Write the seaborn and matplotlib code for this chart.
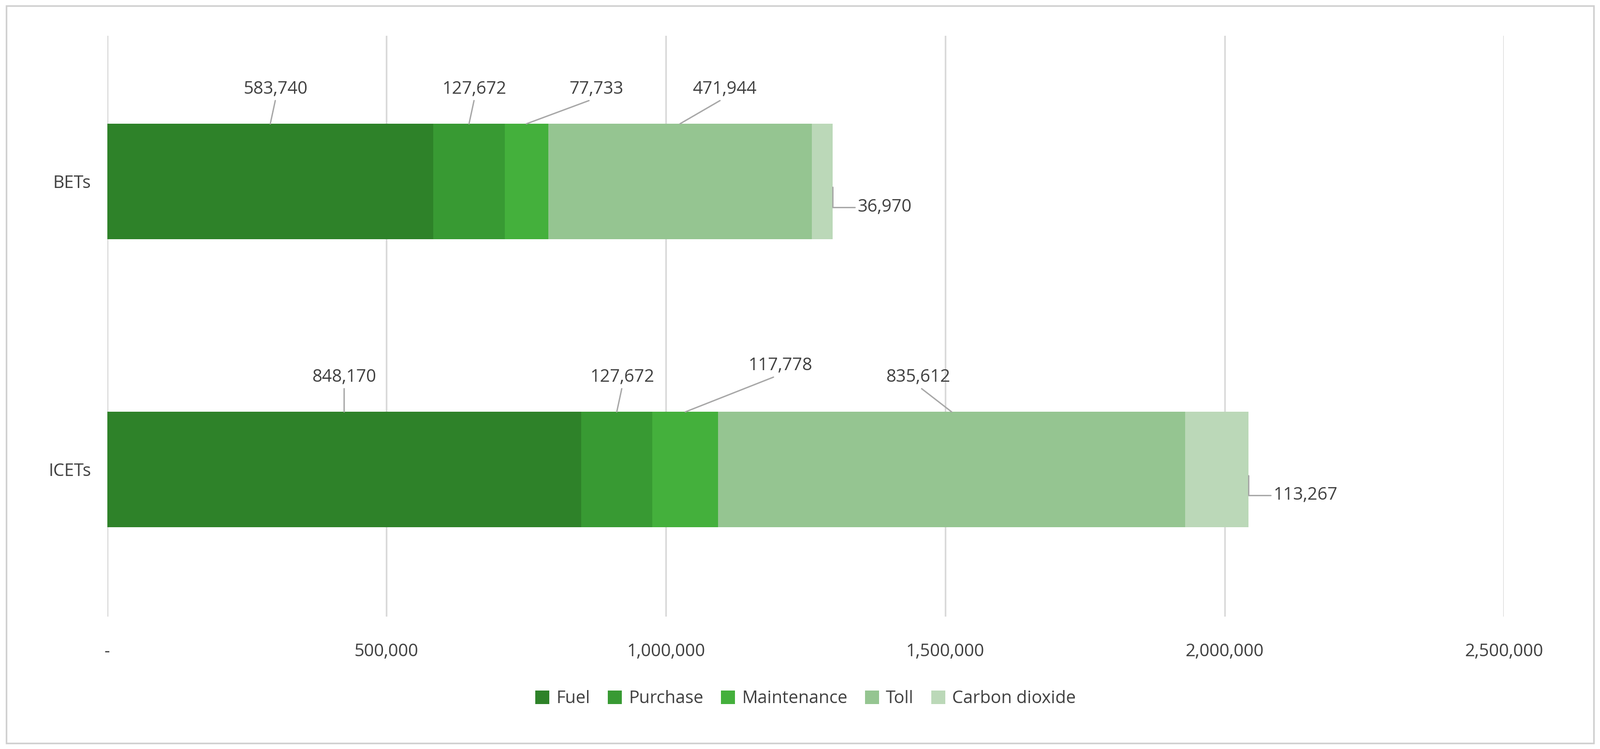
import matplotlib
matplotlib.use("Agg")
import matplotlib.pyplot as plt
import seaborn as sns
import pandas as pd
from matplotlib.patches import Rectangle

plt.rc('font', family='Open Sans', size=12)

# data
vehicles = ["BETs", "ICETs"]
components = ["Fuel", "Purchase", "Maintenance", "Toll", "Carbon dioxide"]
bets_costs = [583740, 127672, 77733, 471944, 36970]
icets_costs = [848170, 127672, 117778, 835612, 113267]
colors = ["#2E8229", "#389A33", "#44B03C", "#95C591", "#BBD8B8"]
xticks = [0, 500000, 1000000, 1500000, 2000000, 2500000]
xtick_labels = ["-", "500,000", "1,000,000", "1,500,000", "2,000,000", "2,500,000"]

# callout offsets (x shift in data units, y offset from bar centre)
bets_label_pos = [(10000, -0.29), (10000, -0.29), (125000, -0.29), (80000, -0.29), None]
icets_label_pos = [(0, -0.29), (10000, -0.29), (170000, -0.33), (-60000, -0.29), None]

rows = []
for v, vals in zip(vehicles, [bets_costs, icets_costs]):
    for c, val in zip(components, vals):
        rows.append({"Vehicle": v, "Component": c, "Cost": val})
df = pd.DataFrame(rows)

fig = plt.figure(figsize=(16.545, 7.75), dpi=200)
ax = fig.add_axes([0.067, 0.177, 0.873, 0.775])

left = {v: 0 for v in vehicles}
for comp, col in zip(components, colors):
    sub = df[df["Component"] == comp]
    lefts = [left[v] for v in sub["Vehicle"]]
    ax.barh(sub["Vehicle"], sub["Cost"], left=lefts, color=col, height=0.4,
            label=comp, zorder=3)
    for v, c in zip(sub["Vehicle"], sub["Cost"]):
        left[v] += c

grey = "#A6A6A6"
txt = "#404040"
for yi, (vals, pos) in enumerate([(bets_costs, bets_label_pos), (icets_costs, icets_label_pos)]):
    start = 0
    for i, val in enumerate(vals):
        center = start + val / 2
        if pos[i] is not None:
            dx, ly = pos[i]
            ax.annotate(f"{val:,}", xy=(center, yi - 0.2), xytext=(center + dx, yi + ly),
                        ha="center", va="bottom", fontsize=13, color=txt,
                        arrowprops=dict(arrowstyle="-", color=grey, lw=1,
                                        shrinkA=0, shrinkB=0,
                                        relpos=(0.5, 0)))
        else:
            end = start + val
            ax.annotate(f"{val:,}", xy=(end, yi + 0.02), xytext=(end + 45000, yi + 0.09),
                        ha="left", va="center", fontsize=13, color=txt,
                        arrowprops=dict(arrowstyle="-", color=grey, lw=1,
                                        shrinkA=0, shrinkB=0,
                                        connectionstyle="angle,angleA=180,angleB=90,rad=0",
                                        relpos=(0, 0.5)))
        start += val

ax.set_xlim(0, 2500000)
ax.set_ylim(1.51, -0.505)
ax.set_xticks(xticks)
ax.set_xticklabels(xtick_labels, fontsize=13, color=txt)
ax.tick_params(axis="y", labelsize=13, labelcolor=txt, length=0, pad=12)
ax.tick_params(axis="x", length=0, pad=20)
ax.grid(axis="x", color="#D9D9D9", lw=1.2, zorder=0)
ax.grid(axis="y", visible=False)
sns.despine(ax=ax, left=True, bottom=True, top=True, right=True)
ax.set_xlabel("")
ax.set_ylabel("")

ax.legend(loc="upper center", bbox_to_anchor=(0.5, -0.1), ncol=5, frameon=False,
          fontsize=13, handlelength=0.8, handleheight=0.8, columnspacing=1.0,
          handletextpad=0.4, labelcolor=txt)

fig.patches.append(Rectangle((0.004, 0.008), 0.992, 0.984, transform=fig.transFigure,
                             fill=False, edgecolor="#D0D0D0", lw=1.2))

fig.savefig("out.png", dpi=200)
